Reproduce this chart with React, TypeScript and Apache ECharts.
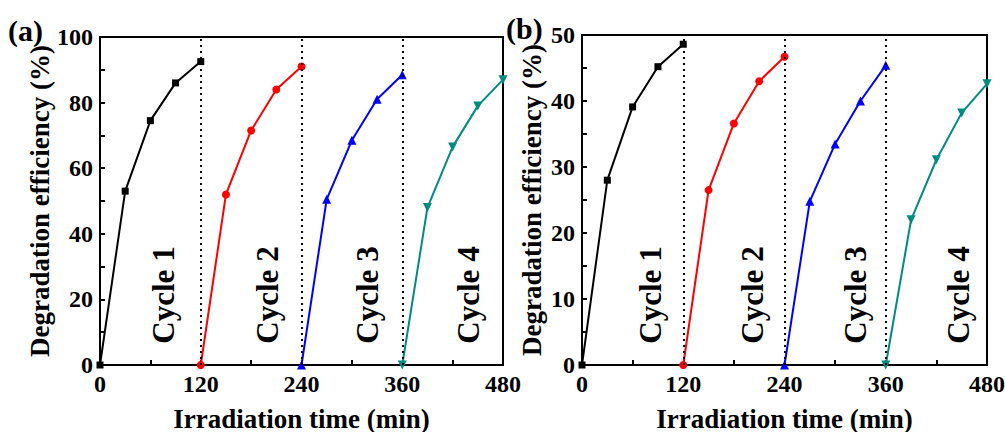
import React, { useEffect, useRef } from "react";
import * as echarts from "echarts";

const cycleX1 = [0, 30, 60, 90, 120];
const cycleX2 = [120, 150, 180, 210, 240];
const cycleX3 = [240, 270, 300, 330, 360];
const cycleX4 = [360, 390, 420, 450, 480];

const aCycle1 = [0, 53, 74.5, 86, 92.5];
const aCycle2 = [0, 52, 71.5, 84, 91];
const aCycle3 = [0, 50.5, 68.5, 81, 88.5];
const aCycle4 = [0, 48, 66.5, 79, 87];

const bCycle1 = [0, 28, 39.1, 45.2, 48.6];
const bCycle2 = [0, 26.5, 36.6, 43, 46.7];
const bCycle3 = [0, 24.8, 33.5, 40, 45.4];
const bCycle4 = [0, 22, 31.1, 38.2, 42.6];

const dividers = [120, 240, 360];
const cycleNames = ["Cycle 1", "Cycle 2", "Cycle 3", "Cycle 4"];
const xTicks = [0, 120, 240, 360, 480];

const FONT = "Liberation Serif";
const colors = ["#000000", "#ff0000", "#0000ff", "#008b80"];
const symbols = ["rect", "circle", "triangle", "triangle"];
const rotates = [0, 0, 0, 180];

export default function App() {
  const ref = useRef<HTMLDivElement>(null);
  useEffect(() => {
    if (!ref.current) return;
    const chart = echarts.init(ref.current, null, { renderer: "svg" });
    const xs = [cycleX1, cycleX2, cycleX3, cycleX4];
    const aData = [aCycle1, aCycle2, aCycle3, aCycle4];
    const bData = [bCycle1, bCycle2, bCycle3, bCycle4];

    const grids = [
      { left: 100, top: 37, width: 403, height: 328 },
      { left: 582, top: 35, width: 405, height: 330 },
    ];

    const mkX = (gi: number) => ({
      type: "value",
      gridIndex: gi,
      min: 0,
      max: 480,
      interval: 120,
      axisLine: { show: true, onZero: false, lineStyle: { color: "#000", width: 2 } },
      axisTick: { show: true, inside: true, length: 5, lineStyle: { color: "#000", width: 2 } },
      minorTick: { show: true, splitNumber: 2, length: 5, lineStyle: { color: "#000", width: 2 } },
      splitLine: { show: false },
      axisLabel: {
        color: "#000",
        fontFamily: FONT,
        fontWeight: "bold",
        fontSize: 24,
        margin: 7,
        formatter: (v: number) => (xTicks.indexOf(v) >= 0 ? String(v) : ""),
      },
      name: "Irradiation time (min)",
      nameLocation: "middle",
      nameGap: 40,
      nameTextStyle: { color: "#000", fontFamily: FONT, fontWeight: "bold", fontSize: 27 },
    });

    const mkY = (gi: number, max: number, interval: number) => ({
      type: "value",
      gridIndex: gi,
      min: 0,
      max,
      interval,
      axisLine: { show: true, onZero: false, lineStyle: { color: "#000", width: 2 } },
      axisTick: { show: true, inside: true, length: 5, lineStyle: { color: "#000", width: 2 } },
      minorTick: { show: true, splitNumber: 2, length: 5, lineStyle: { color: "#000", width: 2 } },
      splitLine: { show: false },
      axisLabel: { color: "#000", fontFamily: FONT, fontWeight: "bold", fontSize: 24, margin: 7 },
      name: "Degradation efficiency (%)",
      nameLocation: "middle",
      nameGap: gi === 0 ? 41 : 37,
      nameTextStyle: { color: "#000", fontFamily: FONT, fontWeight: "bold", fontSize: 27 },
    });

    const series: any[] = [];
    [aData, bData].forEach((panel, gi) => {
      panel.forEach((vals, ci) => {
        series.push({
          type: "line",
          xAxisIndex: gi,
          yAxisIndex: gi,
          data: vals.map((v, i) => [xs[ci][i], v]),
          symbol: symbols[ci],
          symbolSize: ci === 1 ? 8 : ci === 0 ? 7 : 9,
          symbolRotate: rotates[ci],
          lineStyle: { color: colors[ci], width: 2 },
          itemStyle: { color: colors[ci] },
          clip: true,
          z: 3,
          markLine:
            ci === 0
              ? {
                  silent: true,
                  symbol: "none",
                  label: { show: false },
                  lineStyle: { color: "#000", width: 2, type: [2, 4] },
                  data: dividers.map((d) => ({ xAxis: d })),
                }
              : undefined,
        });
      });
    });

    const cycleLabelX = [
      [163, 267, 367, 468],
      [650, 752, 855, 958],
    ];
    const graphics: any[] = [];
    cycleLabelX.forEach((row) =>
      row.forEach((x, i) =>
        graphics.push({
          type: "text",
          x,
          y: 295,
          rotation: Math.PI / 2,
          z: 10,
          style: {
            text: cycleNames[i],
            fontFamily: FONT,
            fontWeight: "bold",
            fontSize: 31,
            fill: "#000",
            align: "center",
            verticalAlign: "middle",
          },
        })
      )
    );
    graphics.push({
      type: "text",
      x: 8,
      y: 30,
      style: { text: "(a)", fontFamily: FONT, fontWeight: "bold", fontSize: 30, fill: "#000", verticalAlign: "middle" },
    });
    graphics.push({
      type: "text",
      x: 506,
      y: 28,
      style: { text: "(b)", fontFamily: FONT, fontWeight: "bold", fontSize: 30, fill: "#000", verticalAlign: "middle" },
    });

    chart.setOption({
      animation: false,
      backgroundColor: "#ffffff",
      grid: grids.map((g) => ({
        ...g,
        show: true,
        borderColor: "#000",
        borderWidth: 2,
        backgroundColor: "transparent",
        containLabel: false,
        outerBoundsMode: "none",
      })),
      xAxis: [mkX(0), mkX(1)],
      yAxis: [mkY(0, 100, 20), mkY(1, 50, 10)],
      series,
      graphic: graphics,
    });
    return () => chart.dispose();
  }, []);
  return (
    <div
      ref={ref}
      style={{ position: "absolute", left: 0, top: 0, width: 1005, height: 432 }}
    />
  );
}
